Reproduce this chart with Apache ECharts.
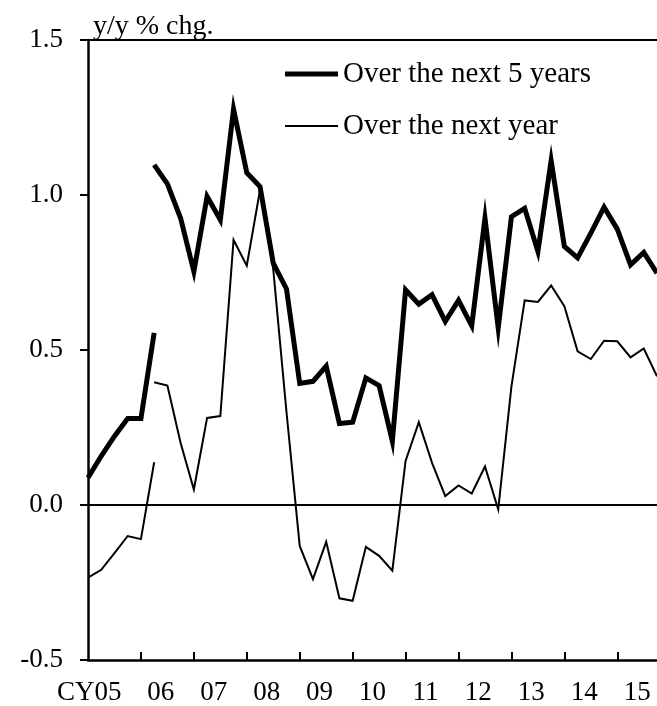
<!DOCTYPE html>
<html>
<head>
<meta charset="utf-8">
<script src="https://cdn.jsdelivr.net/npm/echarts@6/dist/echarts.min.js"></script>
<style>
html,body{margin:0;padding:0;background:#fff;}
#chart{width:657px;height:706px;}
</style>
</head>
<body>
<div id="chart"></div>
<script>
// Quarterly positions: index 0 = CY2005 Q1 ... index 43 = CY2015 Q4
const yearLabels = ['CY05','06','07','08','09','10','11','12','13','14','15'];
const yTickLabels = [-0.5, 0.0, 0.5, 1.0, 1.5];

// "Over the next 5 years" — old basis (2005Q1–2006Q2)
const fiveYearOld = [0.088, 0.158, 0.222, 0.279, 0.279, 0.555];
// "Over the next 5 years" — new basis (2006Q2–2015Q4)
const fiveYearNew = [1.097, 1.036, 0.925, 0.753, 0.995, 0.920, 1.277, 1.072, 1.027, 0.780,
  0.697, 0.392, 0.399, 0.448, 0.263, 0.267, 0.410, 0.385, 0.206, 0.694,
  0.648, 0.678, 0.592, 0.660, 0.578, 0.925, 0.571, 0.930, 0.957, 0.818,
  1.111, 0.834, 0.797, 0.877, 0.961, 0.890, 0.775, 0.815, 0.748];
// "Over the next year" — old basis (2005Q1–2006Q2)
const oneYearOld = [-0.234, -0.209, -0.155, -0.100, -0.110, 0.138];
// "Over the next year" — new basis (2006Q2–2015Q4)
const oneYearNew = [0.396, 0.385, 0.200, 0.050, 0.281, 0.287, 0.855, 0.772, 1.016, 0.760,
  0.300, -0.132, -0.239, -0.119, -0.301, -0.309, -0.135, -0.164, -0.212, 0.142,
  0.267, 0.136, 0.029, 0.063, 0.037, 0.124, -0.014, 0.383, 0.660, 0.655,
  0.708, 0.641, 0.496, 0.471, 0.530, 0.528, 0.476, 0.505, 0.415];

const NEW_START = 5;
function toPairs(arr, start) { return arr.map((v, i) => [start + i, v]); }

const FONT = "'Times New Roman', 'Liberation Serif', serif";
const NAME5 = 'Over the next 5 years';
const NAME1 = 'Over the next year';

const tickVals = [], labelVals = [];
for (let k = 1; k <= 10; k++) tickVals.push(4 * k);
for (let k = 0; k < yearLabels.length; k++) labelVals.push(1.5 + 4 * k);

const chart = echarts.init(document.getElementById('chart'), null, {renderer: 'canvas'});
const thick = {color: '#000', width: 5, join: 'miter', cap: 'butt'};
const thin = {color: '#000', width: 2, join: 'miter', cap: 'butt'};
const legendText = {fontFamily: FONT, fontSize: 29, color: '#000', lineHeight: 30};

chart.setOption({
  animation: false,
  backgroundColor: '#fff',
  title: {
    text: 'y/y % chg.', left: 88, top: 8,
    textStyle: {fontFamily: FONT, fontSize: 28, fontWeight: 'normal', color: '#000'}
  },
  legend: [{
    orient: 'vertical', left: 285, top: 59, padding: 0,
    itemWidth: 53, itemHeight: 5, icon: 'rect',
    data: [NAME5], textStyle: legendText, selectedMode: false,
    itemStyle: {color: '#000'}
  }, {
    orient: 'vertical', left: 285, top: 111, padding: 0,
    itemWidth: 53, itemHeight: 2, icon: 'rect',
    data: [NAME1], textStyle: legendText, selectedMode: false,
    itemStyle: {color: '#000'}
  }],
  grid: {left: 88, top: 40, width: 570, bottom: 45, containLabel: false},
  xAxis: [{
    type: 'value', min: 0, max: 43, position: 'bottom',
    axisLine: {show: true, onZero: false, lineStyle: {color: '#000', width: 2.5}},
    axisTick: {show: true, inside: true, length: 8, customValues: tickVals, lineStyle: {color: '#000', width: 2}},
    axisLabel: {
      show: true, margin: 19, customValues: labelVals,
      fontFamily: FONT, fontSize: 27, color: '#000',
      formatter: function (v) {
        const k = Math.round((v - 1.5) / 4);
        if (k === 0) return '{cy|' + yearLabels[0] + '}';
        return yearLabels[k] || '';
      },
      rich: {cy: {fontFamily: FONT, fontSize: 27, color: '#000', padding: [0, 37, 0, 0]}}
    },
    splitLine: {show: false}
  }, {
    type: 'value', min: 0, max: 43, position: 'top',
    axisLine: {show: true, onZero: false, lineStyle: {color: '#000', width: 2}},
    axisTick: {show: false}, axisLabel: {show: false}, splitLine: {show: false}
  }],
  yAxis: {
    type: 'value', min: yTickLabels[0], max: yTickLabels[yTickLabels.length - 1], interval: 0.5,
    axisLine: {show: true, onZero: false, lineStyle: {color: '#000', width: 2.5}},
    axisTick: {show: true, inside: false, length: 8, lineStyle: {color: '#000', width: 2}},
    axisLabel: {
      margin: 25, fontFamily: FONT, fontSize: 27, color: '#000',
      formatter: v => v.toFixed(1)
    },
    splitLine: {show: false}
  },
  series: [
    {name: NAME5, type: 'line', data: toPairs(fiveYearOld, 0), symbol: 'none', lineStyle: thick, itemStyle: {color: '#000'},
     markLine: {silent: true, symbol: 'none', label: {show: false}, lineStyle: {color: '#000', width: 2, type: 'solid'}, data: [{yAxis: 0}]}},
    {name: NAME5, type: 'line', data: toPairs(fiveYearNew, NEW_START), symbol: 'none', lineStyle: thick, itemStyle: {color: '#000'}},
    {name: NAME1, type: 'line', data: toPairs(oneYearOld, 0), symbol: 'none', lineStyle: thin, itemStyle: {color: '#000'}},
    {name: NAME1, type: 'line', data: toPairs(oneYearNew, NEW_START), symbol: 'none', lineStyle: thin, itemStyle: {color: '#000'}}
  ]
});
</script>
</body>
</html>
